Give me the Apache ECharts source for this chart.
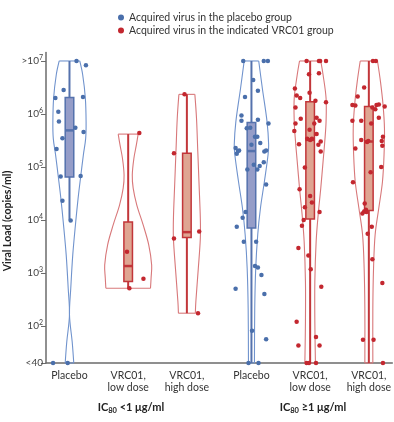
<!DOCTYPE html>
<html><head><meta charset="utf-8">
<script src="https://cdn.jsdelivr.net/npm/echarts@6/dist/echarts.min.js"></script>
<style>html,body{margin:0;padding:0;background:#fff}#c{width:394px;height:422px}</style>
</head><body><div id="c"></div>
<script>
// ---------------- DATA ----------------
const categories = ['Placebo', 'VRC01,\nlow dose', 'VRC01,\nhigh dose', 'Placebo', 'VRC01,\nlow dose', 'VRC01,\nhigh dose'];
const arms = ['placebo', 'vrc', 'vrc', 'placebo', 'vrc', 'vrc'];
const groupLabels = [['IC', '80', ' <1 μg/ml'], ['IC', '80', ' ≥1 μg/ml']];
const legendNames = ['Acquired virus in the placebo group', 'Acquired virus in the indicated VRC01 group'];
// y values are log10(copies/ml); 1.3 = "<40", 7 = ">10^7"
const yTickValues = [1.3, 2, 3, 4, 5, 6, 7];
const yTickLabels = [['<40', ''], ['10', '2'], ['10', '3'], ['10', '4'], ['10', '5'], ['10', '6'], ['>10', '7']];

// dots: log10 viral load and horizontal jitter (x-axis units)
const placeboLowVals = [7.0, 6.92, 6.45, 6.30, 6.32, 6.04, 5.86, 5.74, 5.66, 5.54, 5.34, 4.82, 4.83, 4.36, 3.99, 1.3, 1.3];
const placeboLowJit  = [0.12, 0.28, -0.10, -0.24, 0.23, -0.19, -0.18, 0.10, 0.24, -0.12, -0.22, -0.15, 0.19, -0.12, 0.02, -0.28, -0.03];
const lowDoseAVals = [5.64, 3.40, 2.89, 2.71];
const lowDoseAJit  = [0.19, -0.02, 0.26, 0.02];
const highDoseAVals = [6.37, 5.26, 3.78, 3.65, 2.24];
const highDoseAJit  = [-0.04, -0.22, 0.21, -0.22, 0.19];
const placeboHighVals = [7.0, 7.0, 7.0, 6.64, 6.44, 6.32, 5.97, 5.87, 5.89, 5.82, 5.73, 5.74, 5.57, 5.57, 5.42, 5.45, 5.36, 5.31, 5.25, 5.30, 5.29, 5.31, 5.04, 5.02, 4.95, 5.09, 4.95, 4.67, 4.15, 4.04, 3.87, 3.59, 3.59, 3.13, 3.10, 2.96, 2.70, 2.60, 1.91, 1.75, 1.3, 1.3];
const placeboHighJit  = [-0.14, 0.21, 0.28, 0.03, 0.11, -0.11, -0.17, -0.17, 0.11, 0.29, -0.08, -0.02, 0.06, 0.10, 0.0, 0.15, -0.27, -0.21, -0.25, -0.23, 0.22, 0.25, 0.04, 0.14, 0.10, 0.21, -0.07, 0.25, -0.10, -0.15, -0.25, -0.13, 0.08, 0.06, 0.11, 0.17, -0.27, 0.22, 0.01, 0.25, -0.05, 0.12];
const lowDoseBVals = [7.0, 7.0, 7.0, 7.0, 6.75, 6.77, 6.48, 6.35, 6.30, 6.40, 6.25, 6.22, 6.12, 5.91, 5.93, 5.87, 5.82, 5.82, 5.68, 5.70, 5.62, 5.53, 5.51, 5.53, 5.48, 5.43, 5.42, 5.29, 4.99, 4.58, 4.45, 4.33, 4.24, 4.15, 4.00, 3.89, 3.47, 3.33, 3.07, 2.74, 2.08, 1.79, 1.63, 1.63, 1.3, 1.3, 1.3];
const lowDoseBJit  = [-0.06, 0.15, 0.17, 0.27, -0.02, 0.15, -0.26, -0.23, -0.17, -0.01, 0.09, 0.27, -0.25, -0.16, 0.11, 0.16, 0.07, -0.25, -0.27, -0.01, 0.11, -0.05, 0.0, 0.03, 0.18, -0.19, 0.14, 0.18, -0.09, -0.18, 0.0, 0.03, -0.09, 0.16, -0.11, -0.14, -0.20, -0.03, 0.01, 0.19, -0.23, 0.10, -0.20, 0.16, -0.06, -0.02, 0.10];
const highDoseBVals = [7.0, 7.0, 6.50, 6.33, 6.17, 6.16, 6.18, 6.17, 6.12, 6.14, 6.09, 5.93, 5.87, 5.87, 5.82, 5.57, 5.49, 5.51, 5.47, 5.49, 5.40, 5.35, 5.00, 4.90, 4.71, 4.31, 4.19, 4.12, 4.16, 4.15, 3.87, 3.74, 3.26, 2.81, 1.74, 1.74, 1.3];
const highDoseBJit  = [0.07, 0.12, -0.08, -0.19, -0.28, -0.23, 0.17, 0.13, 0.06, 0.27, 0.11, 0.17, -0.28, -0.13, 0.04, 0.24, 0.22, -0.13, -0.03, -0.01, 0.23, -0.23, 0.21, 0.03, -0.27, -0.07, -0.05, -0.11, -0.08, -0.04, 0.05, -0.02, 0.06, 0.23, -0.10, 0.08, 0.24];

// box stats: [whiskerLow, q1, median, q3, whiskerHigh]
const boxStats = [
  [4.0, 4.81, 5.69, 6.31, 7.0],
  [2.71, 2.84, 3.13, 3.96, 5.62],
  [2.24, 3.67, 3.77, 5.26, 6.37],
  [1.3, 3.85, 5.30, 5.84, 7.0],
  [1.3, 4.02, 5.51, 6.23, 7.0],
  [1.3, 4.18, 5.48, 6.14, 7.0]
];

// violin outlines: [value, half-width in x-axis units]
const violinPlaceboLow = [[7.0, 0.175], [6.74, 0.225], [6.30, 0.27], [5.85, 0.283], [5.54, 0.276], [5.23, 0.237], [4.81, 0.19], [4.41, 0.147], [3.97, 0.107], [3.34, 0.056], [2.71, 0.022], [2.21, 0.0], [1.70, 0.046], [1.3, 0.073]];
const violinLowDoseA = [[5.62, 0.17], [5.42, 0.14], [5.16, 0.097], [4.85, 0.07], [4.60, 0.085], [4.28, 0.147], [3.91, 0.254], [3.53, 0.35], [3.15, 0.40], [2.90, 0.39], [2.71, 0.38]];
const violinHighDoseA = [[6.37, 0.136], [5.92, 0.164], [5.29, 0.186], [4.66, 0.208], [4.03, 0.229], [3.65, 0.229], [3.09, 0.195], [2.46, 0.153], [2.24, 0.144]];
const violinPlaceboHigh = [[7.0, 0.124], [6.48, 0.186], [5.85, 0.266], [5.42, 0.293], [5.23, 0.283], [4.72, 0.22], [4.22, 0.153], [3.72, 0.107], [3.09, 0.073], [2.33, 0.056], [1.3, 0.051]];
const violinLowDoseB = [[7.0, 0.181], [6.74, 0.22], [6.30, 0.271], [5.85, 0.271], [5.48, 0.249], [5.10, 0.22], [4.60, 0.181], [4.09, 0.136], [3.59, 0.102], [2.84, 0.08], [2.08, 0.08], [1.3, 0.09]];
const violinHighDoseB = [[7.0, 0.147], [6.61, 0.198], [6.17, 0.242], [5.73, 0.266], [5.23, 0.259], [4.72, 0.232], [4.22, 0.169], [3.72, 0.107], [3.09, 0.08], [2.33, 0.068], [1.3, 0.068]];

// ---------------- LAYOUT / STYLE ----------------
const xPos = [1, 2, 3, 4.1, 5.1, 6.1];
const dotVals = [placeboLowVals, lowDoseAVals, highDoseAVals, placeboHighVals, lowDoseBVals, highDoseBVals];
const dotJit = [placeboLowJit, lowDoseAJit, highDoseAJit, placeboHighJit, lowDoseBJit, highDoseBJit];
const violins = [violinPlaceboLow, violinLowDoseA, violinHighDoseA, violinPlaceboHigh, violinLowDoseB, violinHighDoseB];
const FONT = 'Lato, "Open Sans", sans-serif';
const C = {
  placebo: {dot: '#4a6fab', violin: '#7093cd', fill: '#959dc8', line: '#5572ad'},
  vrc: {dot: '#c3272f', violin: '#d8787a', fill: '#dfa592', line: '#c2363a'}
};
const BOX_HW = 0.073;

function buildDots(arm) {
  const out = [];
  xPos.forEach((x, i) => {
    if (arms[i] !== arm) return;
    dotVals[i].forEach((v, k) => out.push([x + dotJit[i][k], v]));
  });
  return out;
}

const chart = echarts.init(document.getElementById('c'), null, {renderer: 'canvas'});

function renderViolin(params, api) {
  const i = api.value(2);
  const prof = violins[i];
  const cx = xPos[i];
  const col = C[arms[i]].violin;
  const left = prof.map(p => api.coord([cx - p[1], p[0]]));
  const right = prof.map(p => api.coord([cx + p[1], p[0]]));
  const st = {stroke: col, lineWidth: 1.1, fill: null};
  return {
    type: 'group',
    children: [
      {type: 'polyline', shape: {points: left, smooth: 0.35}, style: st},
      {type: 'polyline', shape: {points: right, smooth: 0.35}, style: st},
      {type: 'line', shape: {x1: left[0][0], y1: left[0][1], x2: right[0][0], y2: right[0][1]}, style: st},
      {type: 'line', shape: {x1: left[left.length - 1][0], y1: left[left.length - 1][1], x2: right[right.length - 1][0], y2: right[right.length - 1][1]}, style: st}
    ]
  };
}

function renderBox(params, api) {
  const i = api.value(2);
  const s = boxStats[i];
  const cx = xPos[i];
  const c = C[arms[i]];
  const lo = api.coord([cx, s[0]]), hi = api.coord([cx, s[4]]);
  const q1l = api.coord([cx - BOX_HW, s[1]]), q3r = api.coord([cx + BOX_HW, s[3]]);
  const ml = api.coord([cx - BOX_HW, s[2]]), mr = api.coord([cx + BOX_HW, s[2]]);
  return {
    type: 'group',
    children: [
      {type: 'line', shape: {x1: lo[0], y1: lo[1], x2: hi[0], y2: hi[1]}, style: {stroke: c.line, lineWidth: 2}},
      {type: 'rect', shape: {x: q1l[0], y: q3r[1], width: q3r[0] - q1l[0], height: q1l[1] - q3r[1]}, style: {fill: c.fill, stroke: c.line, lineWidth: 1.5}},
      {type: 'line', shape: {x1: ml[0], y1: ml[1], x2: mr[0], y2: mr[1]}, style: {stroke: c.line, lineWidth: 2.5}}
    ]
  };
}

const idxData = xPos.map((x, i) => [x, boxStats[i][2], i]);

function yFmt(v) {
  const k = yTickValues.findIndex(t => Math.abs(t - v) < 1e-6);
  if (k < 0) return '';
  const l = yTickLabels[k];
  return l[1] ? '{n|' + l[0] + '}{s|' + l[1] + '}' : '{n|' + l[0] + '}';
}
function xFmt(v) {
  const k = xPos.findIndex(t => Math.abs(t - v) < 1e-6);
  return k < 0 ? '' : categories[k];
}

const groupText = g => '{a|' + g[0] + '}{sub|' + g[1] + '}{a|' + g[2] + '}';
const groupRich = {
  a: {fontSize: 11, fontWeight: 'bold', fontFamily: FONT, fill: '#222', lineHeight: 15},
  sub: {fontSize: 7.5, fontWeight: 'bold', fontFamily: FONT, fill: '#222', verticalAlign: 'bottom', lineHeight: 10}
};

chart.setOption({
  animation: false,
  textStyle: {fontFamily: FONT},
  grid: {left: 46, right: 0, top: 52.5, bottom: 59},
  legend: {
    orient: 'vertical', left: 113, top: 7, itemWidth: 6, itemHeight: 6, itemGap: 2, icon: 'circle',
    textStyle: {fontSize: 10.5, color: '#333', fontFamily: FONT},
    data: legendNames
  },
  xAxis: {
    type: 'value', min: 0.6, max: 6.5,
    splitLine: {show: false},
    axisLine: {lineStyle: {color: '#6b6b6b', width: 1.5}},
    axisTick: {show: false},
    axisLabel: {customValues: xPos, formatter: xFmt, fontSize: 10.5, lineHeight: 12, color: '#333', margin: 7, fontFamily: FONT}
  },
  yAxis: {
    type: 'value', min: 1.3, max: 7.16,
    splitLine: {show: false},
    axisLine: {show: true, lineStyle: {color: '#6b6b6b', width: 1.5}},
    axisTick: {show: true, customValues: yTickValues, length: 5, lineStyle: {color: '#6b6b6b', width: 1}},
    axisLabel: {
      customValues: yTickValues, formatter: yFmt, margin: 3,
      rich: {
        n: {fontSize: 10, color: '#444', fontFamily: FONT, lineHeight: 14},
        s: {fontSize: 7, color: '#444', fontFamily: FONT, verticalAlign: 'top', lineHeight: 8}
      }
    }
  },
  graphic: [
    {type: 'text', x: 8, y: 221, rotation: Math.PI / 2, style: {text: 'Viral Load (copies/ml)', fontSize: 10.5, fontWeight: 'bold', fontFamily: FONT, fill: '#222', align: 'center', verticalAlign: 'middle'}},
    {type: 'text', x: 131, y: 407, style: {text: groupText(groupLabels[0]), rich: groupRich, align: 'center', verticalAlign: 'middle'}},
    {type: 'text', x: 313, y: 407, style: {text: groupText(groupLabels[1]), rich: groupRich, align: 'center', verticalAlign: 'middle'}}
  ],
  series: [
    {type: 'custom', name: 'violins', renderItem: renderViolin, data: idxData, clip: false, silent: true, z: 1},
    {type: 'custom', name: 'boxes', renderItem: renderBox, data: idxData, clip: false, silent: true, z: 2},
    {type: 'scatter', name: legendNames[0], data: buildDots('placebo'), symbolSize: 4.5, itemStyle: {color: C.placebo.dot, opacity: 1}, z: 3, clip: false},
    {type: 'scatter', name: legendNames[1], data: buildDots('vrc'), symbolSize: 4.5, itemStyle: {color: C.vrc.dot, opacity: 1}, z: 3, clip: false}
  ]
});
</script>
</body></html>
